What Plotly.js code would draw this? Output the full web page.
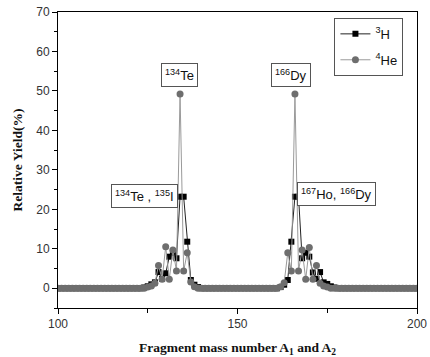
<!DOCTYPE html>
<html>
<head>
<meta charset="utf-8">
<script src="https://cdn.plot.ly/plotly-3.0.1.min.js"></script>
<style>html,body{margin:0;padding:0;background:#fff;}#chart{width:430px;height:357px;}</style>
</head>
<body>
<div id="chart"></div>
<script>
// mass numbers 100..200
const massMin = 100, massMax = 200;
const masses = [];
for (let m = massMin; m <= massMax; m++) masses.push(m);

// non-zero yields (%); all other masses are 0
const h3Mass  = [124, 125, 126, 127, 128, 129, 130, 131, 132, 133, 134, 135, 136, 137, 138, 139,
                 162, 163, 164, 165, 166, 167, 168, 169, 170, 171, 172, 173, 174, 175, 176, 177];
const h3Yield = [0.2, 0.5, 1.0, 1.5, 4.1, 2.4, 3.8, 8.0, 9.0, 7.6, 23.2, 23.2, 11.8, 2.1, 0.9, 0.3,
                 0.3, 0.9, 2.1, 11.8, 23.2, 23.2, 7.6, 9.0, 8.0, 4.0, 2.4, 4.1, 1.5, 1.1, 0.5, 0.2];

const he4Mass  = [125, 126, 127, 128, 129, 130, 131, 132, 133, 134, 135, 136, 137, 138,
                  162, 163, 164, 165, 166, 167, 168, 169, 170, 171, 172, 173, 174, 175];
const he4Yield = [0.3, 0.6, 1.3, 5.8, 2.3, 10.5, 2.3, 9.7, 4.4, 49.2, 4.4, 9.0, 1.6, 0.4,
                  0.4, 1.4, 9.0, 4.4, 49.2, 4.4, 9.7, 2.3, 10.3, 2.3, 5.8, 1.3, 0.6, 0.3];

function fill(ms, ys) {
  return masses.map(m => { const i = ms.indexOf(m); return i >= 0 ? ys[i] : 0; });
}
const h3 = fill(h3Mass, h3Yield);
const he4 = fill(he4Mass, he4Yield);

const traces = [
  {x: masses, y: h3, name: '<sup>3</sup>H', mode: 'lines+markers', legendgroup: 'a',
   line: {color: '#222', width: 1},
   marker: {symbol: 'square', size: 6, color: '#000'}},
  {x: masses, y: he4, name: '<sup>4</sup>He', mode: 'lines+markers', legendgroup: 'b',
   line: {color: '#9a9a9a', width: 1},
   marker: {symbol: 'circle', size: 7, color: '#6e6e6e'}}
];

const annFont = {family: 'Liberation Sans, Arial, sans-serif', size: 13, color: '#111'};
function box(x, y, text) {
  return {x: x, y: y, xref: 'x', yref: 'y', text: text, showarrow: false,
          font: annFont, bordercolor: '#555', borderwidth: 1, borderpad: 3, bgcolor: '#fff'};
}
const annotations = [
  box(133.8, 54, '<sup>134</sup>Te'),
  box(164.8, 54, '<sup>166</sup>Dy'),
  box(124.2, 23.5, '<sup>134</sup>Te , <sup>135</sup>I'),
  box(177.5, 24, '<sup>167</sup>Ho, <sup>166</sup>Dy')
];

const tickFont = {family: 'Liberation Sans, Arial, sans-serif', size: 12, color: '#333'};
const titleFont = {family: 'Liberation Serif, Times New Roman, serif', size: 13.5, color: '#111', weight: 'bold'};

const layout = {
  width: 430, height: 357,
  margin: {l: 58, r: 13, t: 12, b: 49},
  paper_bgcolor: '#fff', plot_bgcolor: '#fff',
  showlegend: true,
  legend: {x: 0.77, y: 0.98, xanchor: 'left', yanchor: 'top',
           bordercolor: '#555', borderwidth: 1, bgcolor: '#fff',
           font: {family: 'Liberation Sans, Arial, sans-serif', size: 13, color: '#111'},
           tracegroupgap: 6},
  xaxis: {range: [massMin, massMax], dtick: 50, tick0: 100,
          ticks: 'outside', ticklen: 5, tickcolor: '#000', ticklabeloverflow: 'allow',
          minor: {dtick: 25, ticks: 'outside', ticklen: 4, tickcolor: '#000'},
          showgrid: false, zeroline: false, showline: true, linecolor: '#000', linewidth: 1, mirror: true,
          tickfont: tickFont,
          title: {text: 'Fragment mass number A<sub>1</sub> and A<sub>2</sub>', font: titleFont, standoff: 12}},
  yaxis: {range: [-5, 70], dtick: 10, tick0: 0,
          ticks: 'outside', ticklen: 5, tickcolor: '#000',
          minor: {dtick: 5, ticks: 'outside', ticklen: 3, tickcolor: '#000'},
          showgrid: false, zeroline: false, showline: true, linecolor: '#000', linewidth: 1, mirror: true,
          tickfont: tickFont,
          title: {text: 'Relative Yield(%)', font: titleFont, standoff: 10}},
  annotations: annotations
};

Plotly.newPlot('chart', traces, layout, {displayModeBar: false, staticPlot: true});
</script>
</body>
</html>
